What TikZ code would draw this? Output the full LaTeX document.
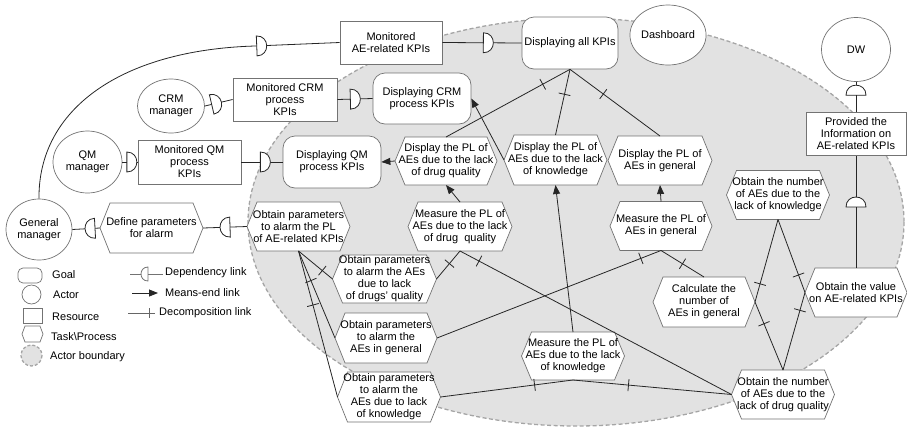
\documentclass[tikz,border=0pt]{standalone}
\usepackage{fontspec}
\setmainfont{Liberation Sans}
\usetikzlibrary{arrows.meta,shapes.geometric,decorations.markings}
\definecolor{bndfill}{RGB}{226,226,226}
\definecolor{bndline}{RGB}{165,165,165}
\definecolor{nodeline}{RGB}{115,115,115}
\newcommand{\hexnode}[6]{%
  \draw[hexline] ({#2-#4/2},#3) -- ({#2-#4/2+10},{#3-#5/2}) -- ({#2+#4/2-10},{#3-#5/2}) -- ({#2+#4/2},#3) -- ({#2+#4/2-10},{#3+#5/2}) -- ({#2-#4/2+10},{#3+#5/2}) -- cycle;
  \node[hexbox, minimum width=#4pt, minimum height=#5pt] (#1) at (#2,#3) {#6};
}
\begin{document}
\begin{tikzpicture}[x=1pt,y=-1pt,font=\fontsize{11}{12}\selectfont,
  hexline/.style={draw=nodeline,fill=white,line width=0.7pt},
  hexbox/.style={shape=rectangle,inner sep=0pt,outer sep=0pt,align=center},
  goal/.style={draw=nodeline,fill=white,rounded corners=12pt,line width=0.7pt,align=center,inner sep=0pt,minimum width=98pt,minimum height=52pt},
  res/.style={draw=nodeline,fill=white,line width=0.7pt,align=center,inner sep=0pt,minimum width=103pt,minimum height=43pt},
  actor/.style={draw=nodeline,fill=white,ellipse,line width=0.7pt,align=center,inner sep=0pt},
  link/.style={line width=0.8pt,draw=black!85},
  decomp/.style={link,postaction={decorate,decoration={markings,mark=at position #1 with {\draw[link] (0,-6pt) -- (0,6pt);}}}},
  means/.style={link,-{Triangle[length=9pt,width=7pt]}},
  deplink/.style={link,postaction={decorate,decoration={markings,mark=at position #1 with {\draw[link,fill=white] (-5pt,-10pt) .. controls (8.33pt,-10pt) and (8.33pt,10pt) .. (-5pt,10pt) -- cycle;}}}},
  deplegend/.style={line width=0.8pt,draw=black!55,postaction={decorate,decoration={markings,mark=at position #1 with {\draw[line width=0.8pt,draw=black!55,fill=white] (-3.5pt,-7pt) .. controls (5.83pt,-7pt) and (5.83pt,7pt) .. (-3.5pt,7pt) -- cycle;}}}},
  legtext/.style={anchor=west,inner sep=0pt}
]
\useasboundingbox (0,0) rectangle (907,429);

% actor boundary
\draw[fill=bndfill,draw=bndline,line width=1.3pt,dash pattern=on 4pt off 2.5pt] (576,222) ellipse [x radius=328, y radius=204];

% goals
\node[goal,minimum width=96pt] (all) at (570,43) {Displaying all KPIs};
\node[goal,minimum height=51pt] (crmgoal) at (422,98.5) {Displaying CRM\\process KPIs};
\node[goal] (qmgoal) at (332,162) {Displaying QM\\process KPIs};

% resources
\node[res,minimum width=102pt] (monAE) at (391,42.5) {Monitored\\AE-related KPIs};
\node[res,minimum width=104pt] (crmbox) at (285,99.5) {Monitored CRM\\process\\KPIs};
\node[res,minimum height=44pt] (qmbox) at (189.5,162) {Monitored QM\\process\\KPIs};
\node[res,minimum width=100pt] (prov) at (856,134) {Provided the\\Information on\\AE-related KPIs};

% actors
\node[actor,minimum width=69pt,minimum height=60pt] (dash) at (668,35) {Dashboard};
\node[actor,minimum width=69pt,minimum height=64pt] (dw) at (856,49.5) {DW};
\node[actor,minimum width=67pt,minimum height=54pt] (crm) at (171,106) {CRM\\manager};
\node[actor,minimum width=69pt,minimum height=62pt] (qm) at (87.5,162) {QM\\manager};
\node[actor,minimum width=66pt,minimum height=61pt] (gm) at (39,229.5) {General\\manager};

% tasks
\hexnode{define}{151.5}{228}{103}{50}{Define parameters\\for alarm}
\hexnode{opa}{298.5}{226.5}{103}{49}{Obtain parameters\\to alarm the PL\\of AE-related KPIs}
\hexnode{dispDrug}{446}{161}{102}{48}{Display the PL of\\AEs due to the lack\\of drug quality}
\hexnode{dispKnow}{555.5}{160}{103}{50}{Display the PL of\\AEs due to the lack\\of knowledge}
\hexnode{dispGen}{660}{160.5}{104}{49}{Display the PL of\\AEs in general}
\hexnode{measDrug}{460}{226.5}{104}{49}{Measure the PL of\\AEs due to the lack\\of drug\ \ quality}
\hexnode{measGen}{661}{226}{102}{49}{Measure the PL of\\AEs in general}
\hexnode{measKnow}{573}{356}{103}{48}{Measure the PL of\\AEs due to the lack\\of knowledge}
\hexnode{opDrug}{384.5}{279}{104}{48}{Obtain parameters\\to alarm the AEs\\due to lack\\of drugs' quality}
\hexnode{opGen}{386}{338}{102}{50}{Obtain parameters\\to alarm the\\AEs in general}
\hexnode{opKnow}{389}{397}{103}{50}{Obtain parameters\\to alarm the\\AEs due to lack\\of knowledge}
\hexnode{calc}{704}{302}{102}{50}{Calculate the\\number of\\AEs in general}
\hexnode{onk}{778}{195}{103}{49}{Obtain the number\\of AEs due to the\\lack of knowledge}
\hexnode{value}{856}{292.5}{102}{49}{Obtain the value\\on AE-related KPIs}
\hexnode{ond}{783}{394.5}{103}{49}{Obtain the number\\of AEs due to the\\lack of drug quality}

% decomposition links
\draw[decomp=0.22] (all.south) -- (dispDrug.north);
\draw[decomp=0.38] (all.south) -- (dispKnow.north);
\draw[decomp=0.37] (all.south) -- (dispGen.north);
\draw[decomp=0.7] (opa.south) -- (opDrug.west);
\draw[decomp=0.34] (opa.south) -- (opGen.west);
\draw[decomp=0.37] (opa.south) -- (opKnow.west);
\draw[decomp=0.45] (measDrug.south) -- (opDrug.east);
\draw[decomp=0.07] (measDrug.south) -- (ond.west);
\draw[decomp=0.09] (measGen.south) -- (opGen.east);
\draw[decomp=0.5] (measGen.south) -- (calc.north);
\draw[decomp=0.29] (measKnow.south) -- (opKnow.east);
\draw[decomp=0.35] (measKnow.south) -- (ond.west);
\draw[decomp=0.22] (calc.east) -- (onk.south);
\draw[decomp=0.32] (calc.east) -- (ond.north);
\draw[decomp=0.24] (value.west) -- (onk.south);
\draw[decomp=0.23] (value.west) -- (ond.north);

% means-end links
\draw[means] (dispDrug.west) -- (qmgoal.east);
\draw[means] (dispKnow.west) -- (crmgoal.east);
\draw[means] (measDrug.north) -- (dispDrug.south);
\draw[means] (measGen.north) -- (dispGen.south);
\draw[means] (measKnow.north) -- (dispKnow.south);

% dependency links
\draw[deplink=-78pt] (gm.north) .. controls (38,110) and (120,50) .. (255,46) -- (monAE.west);
\draw[deplink=46pt] (monAE.east) -- (all.west);
\draw[deplink=12pt] (crm.east) -- (crmbox.west);
\draw[deplink=18pt] (crmbox.east) -- (crmgoal.west);
\draw[deplink=9.5pt] (qm.east) -- (qmbox.west);
\draw[deplink=24pt] (qmbox.east) -- (qmgoal.west);
\draw[deplink=22pt] (opa.west) -- (define.east);
\draw[deplink=10pt] (define.west) -- (gm.east);
\draw[deplink=66pt] (value.north) -- (prov.south);
\draw[deplink=22pt] (prov.north) -- (dw.south);

% legend shapes
\node[goal,minimum width=24pt,minimum height=15pt,rounded corners=5pt] (lgoal) at (30,275.5) {};
\node[actor,minimum width=19pt,minimum height=19pt] (lactor) at (31.5,294.5) {};
\node[res,minimum width=19pt,minimum height=15pt] (lres) at (32.5,315.5) {};
\draw[hexline] (22,334) -- (25,326) -- (40,326) -- (43,334) -- (40,342) -- (25,342) -- cycle;
\draw[fill=bndfill,draw=bndline,line width=1.3pt,dash pattern=on 3pt off 2pt] (31.5,355.5) circle [radius=10.5];
\node[legtext] (tgoal) at (52,275) {Goal};
\node[legtext] (tactor) at (53,295) {Actor};
\node[legtext] (tres) at (52,317) {Resource};
\node[legtext] (ttask) at (51,337) {Task\textbackslash Process};
\node[legtext] (tbnd) at (50,357) {Actor boundary};

% legend links
\coordinate (ld1) at (163,274);
\coordinate (ld2) at (130,274);
\draw[deplegend=18.5pt] (ld1) -- (ld2);
\node[legtext] (tdep) at (165,273) {Dependency link};
\coordinate (lm1) at (132,293);
\coordinate (lm2) at (158,293);
\draw[means] (lm1) -- (lm2);
\node[legtext] (tmeans) at (165,293) {Means-end link};
\coordinate (lc1) at (128,313);
\coordinate (lc2) at (155,313);
\draw[line width=0.8pt,draw=black!60,postaction={decorate,decoration={markings,mark=at position 0.8 with {\draw[line width=0.8pt,draw=black!60] (0,-5pt) -- (0,5pt);}}}] (lc1) -- (lc2);
\node[legtext] (tdec) at (159,313) {Decomposition link};
\end{tikzpicture}
\end{document}
